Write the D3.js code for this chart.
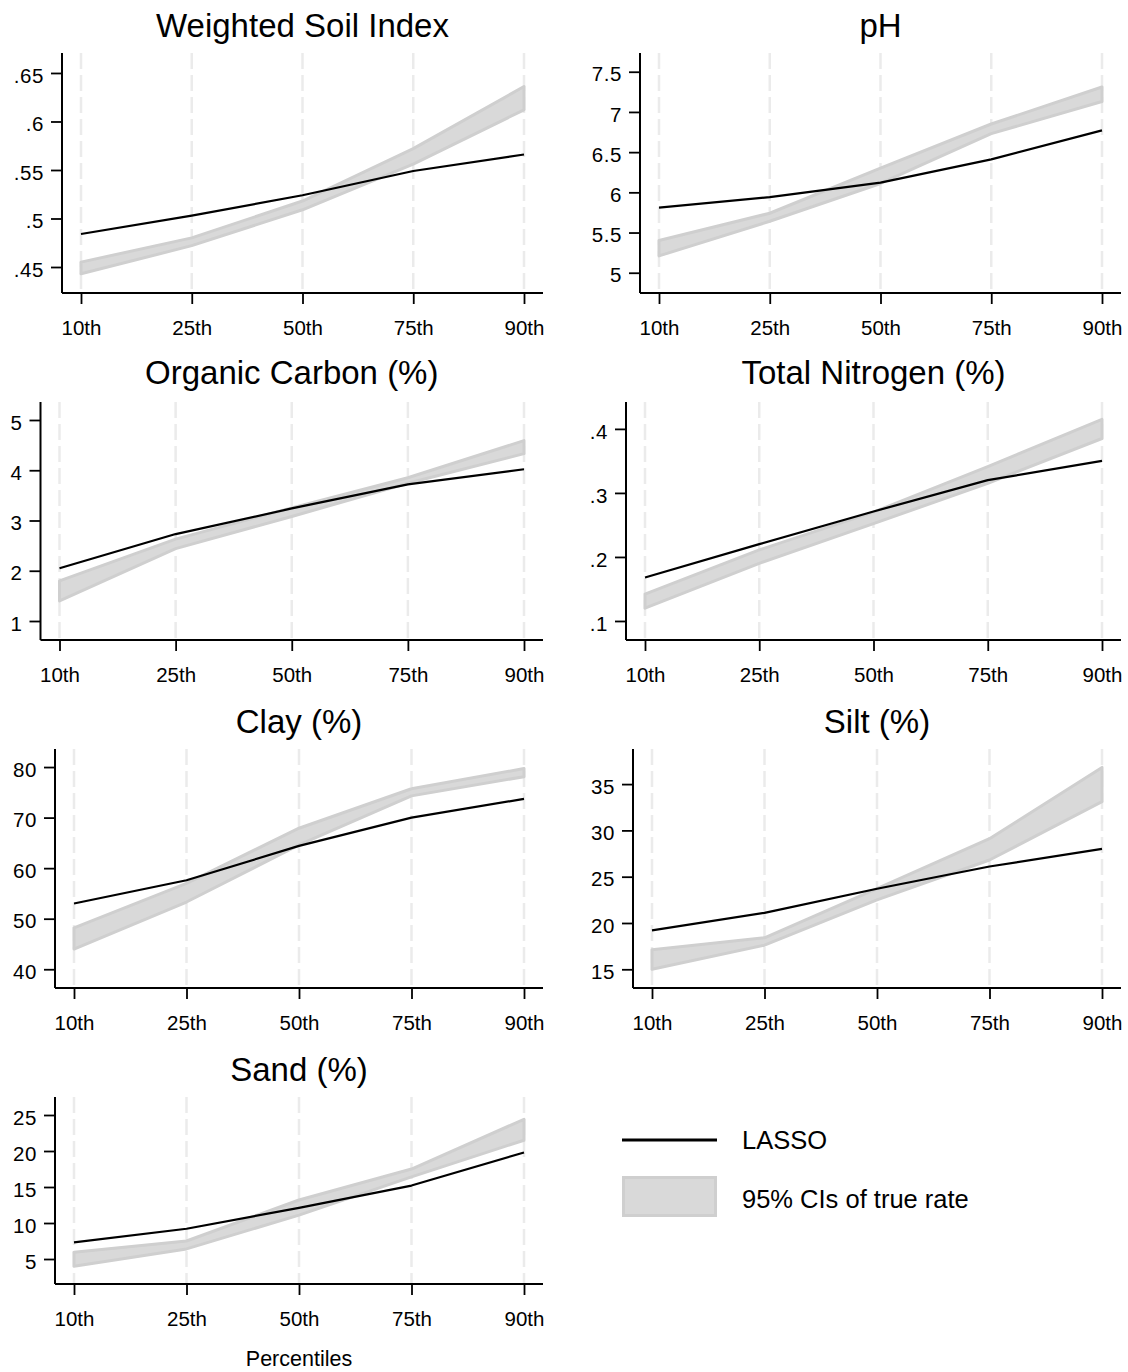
<!DOCTYPE html>
<html>
<head>
<meta charset="utf-8">
<script src="https://cdn.jsdelivr.net/npm/d3@7/dist/d3.min.js"></script>
<style>
  html, body { margin: 0; padding: 0; background: #fff; }
  svg { display: block; }
  text { font-family: "Liberation Sans", Arial, Helvetica, sans-serif; fill: #000; }
</style>
</head>
<body>
<svg id="chart" width="1128" height="1372"></svg>
<script>
// ---------------- DATA ----------------
const categories = ["10th", "25th", "50th", "75th", "90th"];

const titles = ["Weighted Soil Index", "pH", "Organic Carbon (%)", "Total Nitrogen (%)", "Clay (%)", "Silt (%)", "Sand (%)"];

// LASSO predictions
const lassoWSI  = [0.484, 0.503, 0.524, 0.549, 0.566];
const lassoPH   = [5.81, 5.94, 6.12, 6.41, 6.77];
const lassoOC   = [2.05, 2.73, 3.24, 3.72, 4.02];
const lassoTN   = [0.168, 0.220, 0.271, 0.320, 0.350];
const lassoClay = [53.0, 57.6, 64.4, 70.0, 73.7];
const lassoSilt = [19.2, 21.1, 23.7, 26.1, 28.0];
const lassoSand = [7.3, 9.2, 12.1, 15.2, 19.8];

// 95% CIs of true rate (lower / upper)
const ciLoWSI  = [0.443, 0.472, 0.509, 0.556, 0.612];
const ciHiWSI  = [0.455, 0.480, 0.518, 0.572, 0.636];
const ciLoPH   = [5.21, 5.64, 6.11, 6.73, 7.13];
const ciHiPH   = [5.40, 5.74, 6.30, 6.85, 7.31];
const ciLoOC   = [1.40, 2.44, 3.08, 3.74, 4.33];
const ciHiOC   = [1.80, 2.63, 3.25, 3.85, 4.59];
const ciLoTN   = [0.120, 0.190, 0.252, 0.315, 0.385];
const ciHiTN   = [0.142, 0.211, 0.270, 0.341, 0.415];
const ciLoClay = [44.0, 53.3, 64.6, 74.3, 78.1];
const ciHiClay = [48.2, 57.0, 67.9, 75.7, 79.7];
const ciLoSilt = [15.0, 17.6, 22.5, 26.8, 33.1];
const ciHiSilt = [17.1, 18.4, 23.7, 29.1, 36.8];
const ciLoSand = [4.0, 6.4, 11.1, 16.4, 21.5];
const ciHiSand = [5.95, 7.5, 13.2, 17.5, 24.4];

// y-axis ticks and labels
const ticksWSI  = [0.45, 0.5, 0.55, 0.6, 0.65];
const tickLabelsWSI = [".45", ".5", ".55", ".6", ".65"];
const ticksPH   = [5, 5.5, 6, 6.5, 7, 7.5];
const tickLabelsPH = ["5", "5.5", "6", "6.5", "7", "7.5"];
const ticksOC   = [1, 2, 3, 4, 5];
const tickLabelsOC = ["1", "2", "3", "4", "5"];
const ticksTN   = [0.1, 0.2, 0.3, 0.4];
const tickLabelsTN = [".1", ".2", ".3", ".4"];
const ticksClay = [40, 50, 60, 70, 80];
const tickLabelsClay = ["40", "50", "60", "70", "80"];
const ticksSilt = [15, 20, 25, 30, 35];
const tickLabelsSilt = ["15", "20", "25", "30", "35"];
const ticksSand = [5, 10, 15, 20, 25];
const tickLabelsSand = ["5", "10", "15", "20", "25"];

// y-axis ranges
const domainWSI  = [0.4232, 0.6706];
const domainPH   = [4.748, 7.733];
const domainOC   = [0.622, 5.358];
const domainTN   = [0.0703, 0.442];
const domainClay = [36.29, 83.57];
const domainSilt = [12.98, 38.79];
const domainSand = [1.53, 27.5];

const legendLabels = ["LASSO", "95% CIs of true rate"];
const xAxisTitle = "Percentiles";

// ---------------- LAYOUT ----------------
const layout = [
  { x0: 62,   x1: 543,  top: 53,   bottom: 293,  titleY: 37 },
  { x0: 640,  x1: 1121, top: 53,   bottom: 293,  titleY: 37 },
  { x0: 40.5, x1: 543,  top: 402,  bottom: 640,  titleY: 384 },
  { x0: 626,  x1: 1121, top: 402,  bottom: 640,  titleY: 384 },
  { x0: 55,   x1: 543,  top: 749,  bottom: 988,  titleY: 733 },
  { x0: 633,  x1: 1121, top: 749,  bottom: 988,  titleY: 733 },
  { x0: 55,   x1: 543,  top: 1097, bottom: 1284, titleY: 1081 }
];

const panels = [
  { lasso: lassoWSI,  lo: ciLoWSI,  hi: ciHiWSI,  ticks: ticksWSI,  labels: tickLabelsWSI,  domain: domainWSI },
  { lasso: lassoPH,   lo: ciLoPH,   hi: ciHiPH,   ticks: ticksPH,   labels: tickLabelsPH,   domain: domainPH },
  { lasso: lassoOC,   lo: ciLoOC,   hi: ciHiOC,   ticks: ticksOC,   labels: tickLabelsOC,   domain: domainOC },
  { lasso: lassoTN,   lo: ciLoTN,   hi: ciHiTN,   ticks: ticksTN,   labels: tickLabelsTN,   domain: domainTN },
  { lasso: lassoClay, lo: ciLoClay, hi: ciHiClay, ticks: ticksClay, labels: tickLabelsClay, domain: domainClay },
  { lasso: lassoSilt, lo: ciLoSilt, hi: ciHiSilt, ticks: ticksSilt, labels: tickLabelsSilt, domain: domainSilt },
  { lasso: lassoSand, lo: ciLoSand, hi: ciHiSand, ticks: ticksSand, labels: tickLabelsSand, domain: domainSand }
];

const BAND_FILL = "#d9d9d9";
const BAND_STROKE = "#cfcfcf";
const GRID = "#ebebeb";
const PAD = 19;

const svg = d3.select("#chart");

panels.forEach((p, i) => {
  const L = layout[i];
  const g = svg.append("g");
  const x = d3.scalePoint().domain(categories).range([L.x0 + PAD, L.x1 - PAD]);
  const y = d3.scaleLinear().domain(p.domain).range([L.bottom, L.top]);

  // vertical dashed grid lines
  g.selectAll("line.grid").data(categories).enter().append("line")
    .attr("x1", d => x(d)).attr("x2", d => x(d))
    .attr("y1", L.top).attr("y2", L.bottom)
    .attr("stroke", GRID).attr("stroke-width", 2.5)
    .attr("stroke-dasharray", "16,6");

  // CI band
  const rows = categories.map((c, k) => ({ c, lo: p.lo[k], hi: p.hi[k], v: p.lasso[k] }));
  const area = d3.area().x(d => x(d.c)).y0(d => y(d.lo)).y1(d => y(d.hi));
  g.append("path").datum(rows).attr("d", area)
    .attr("fill", BAND_FILL).attr("stroke", BAND_STROKE)
    .attr("stroke-width", 3).attr("stroke-linejoin", "round");

  // LASSO line
  const line = d3.line().x(d => x(d.c)).y(d => y(d.v));
  g.append("path").datum(rows).attr("d", line)
    .attr("fill", "none").attr("stroke", "#000").attr("stroke-width", 2.2)
    .attr("stroke-linejoin", "round");

  // y axis
  const yAxis = d3.axisLeft(y).tickValues(p.ticks)
    .tickFormat((d, k) => p.labels[k]).tickSize(11).tickPadding(7).tickSizeOuter(0);
  const ya = g.append("g").attr("transform", `translate(${L.x0},0)`).call(yAxis);
  ya.select(".domain").attr("d", `M0,${L.top}V${L.bottom}`).attr("stroke-width", 2);
  ya.selectAll(".tick line").attr("stroke-width", 1.8);
  ya.selectAll(".tick text").style("font-size", "20.5px").style("letter-spacing", "0.6px")
    .style("font-family", "'Liberation Sans', Arial, sans-serif").attr("dy", "0.45em");

  // x axis
  const xAxis = d3.axisBottom(x).tickSize(11).tickPadding(16).tickSizeOuter(0);
  const xa = g.append("g").attr("transform", `translate(0,${L.bottom})`).call(xAxis);
  xa.select(".domain").attr("d", `M${L.x0},0H${L.x1}`).attr("stroke-width", 2);
  xa.selectAll(".tick line").attr("stroke-width", 1.8);
  xa.selectAll(".tick text").style("font-size", "20.5px")
    .style("font-family", "'Liberation Sans', Arial, sans-serif");

  // title
  g.append("text").attr("x", (L.x0 + L.x1) / 2).attr("y", L.titleY)
    .attr("text-anchor", "middle").style("font-size", "33px").text(titles[i]);
});

// x-axis title of last panel
const Llast = layout[6];
svg.append("text").attr("x", (Llast.x0 + Llast.x1) / 2).attr("y", 1366)
  .attr("text-anchor", "middle").style("font-size", "21.5px").text(xAxisTitle);

// legend
const lg = svg.append("g");
lg.append("line").attr("x1", 622).attr("x2", 717).attr("y1", 1140).attr("y2", 1140)
  .attr("stroke", "#000").attr("stroke-width", 3);
lg.append("text").attr("x", 742).attr("y", 1140).attr("dy", "0.36em")
  .style("font-size", "25.5px").text(legendLabels[0]);
lg.append("rect").attr("x", 623.5).attr("y", 1177.5).attr("width", 92).attr("height", 38)
  .attr("fill", BAND_FILL).attr("stroke", BAND_STROKE).attr("stroke-width", 3);
lg.append("text").attr("x", 742).attr("y", 1199).attr("dy", "0.36em")
  .style("font-size", "25.5px").text(legendLabels[1]);
</script>
</body>
</html>
